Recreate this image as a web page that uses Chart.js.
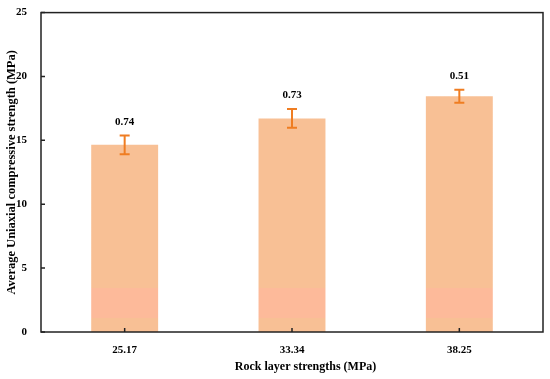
<!DOCTYPE html>
<html>
<head>
<meta charset="utf-8">
<script src="https://cdn.jsdelivr.net/npm/chart.js@4"></script>
<style>
  html, body { margin: 0; padding: 0; background: #fff; }
  #wrap { width: 550px; height: 379px; }
</style>
</head>
<body>
<div id="wrap"><canvas id="chart"></canvas></div>
<script>
const categories = ["25.17", "33.34", "38.25"];
const strengths = [14.65, 16.72, 18.45];
const errors = [0.74, 0.73, 0.51];
const yTicks = [0, 5, 10, 15, 20, 25];
const xTitle = "Rock layer strengths (MPa)";

const barColor = "#f8c095";
const bandColor = "#fdba9a";
const errColor = "#ef7d22";
const font = "Liberation Serif, Times New Roman, serif";

// pale band near the bottom of each bar (as in the reference image)
const barFill = ctx => {
  const chart = ctx.chart;
  if (!chart.chartArea) return barColor;
  const y = chart.scales.y;
  const top = y.getPixelForValue(25), bot = y.getPixelForValue(0);
  const g = chart.ctx.createLinearGradient(0, bot, 0, top);
  const s1 = 1.1 / 25, s2 = 3.45 / 25;
  g.addColorStop(0, barColor);
  g.addColorStop(s1, barColor);
  g.addColorStop(s1, bandColor);
  g.addColorStop(s2, bandColor);
  g.addColorStop(s2, barColor);
  g.addColorStop(1, barColor);
  return g;
};

const decor = {
  id: "decor",
  afterDatasetsDraw(chart) {
    const { ctx, chartArea: a, scales: { x, y } } = chart;
    ctx.save();
    // error bars + labels
    ctx.strokeStyle = errColor;
    ctx.lineWidth = 2;
    strengths.forEach((v, i) => {
      const px = x.getPixelForValue(i);
      const hi = y.getPixelForValue(v + errors[i]);
      const lo = y.getPixelForValue(v - errors[i]);
      ctx.beginPath();
      ctx.moveTo(px, hi); ctx.lineTo(px, lo);
      ctx.moveTo(px - 5, hi); ctx.lineTo(px + 5, hi);
      ctx.moveTo(px - 5, lo); ctx.lineTo(px + 5, lo);
      ctx.stroke();
      ctx.fillStyle = "#000";
      ctx.font = "bold 11px " + font;
      ctx.textAlign = "center";
      ctx.textBaseline = "bottom";
      ctx.fillText(errors[i].toFixed(2), px, hi - 8);
    });
    // frame
    ctx.strokeStyle = "#222";
    ctx.lineWidth = 1.5;
    ctx.strokeRect(a.left, a.top, a.right - a.left, a.bottom - a.top);
    // inward ticks
    ctx.beginPath();
    yTicks.forEach(t => {
      const py = y.getPixelForValue(t);
      ctx.moveTo(a.left, py); ctx.lineTo(a.left + 4, py);
    });
    categories.forEach((c, i) => {
      const px = x.getPixelForValue(i);
      ctx.moveTo(px, a.bottom); ctx.lineTo(px, a.bottom - 4);
    });
    ctx.stroke();
    // x axis title (sits a little right of centre in the reference)
    ctx.fillStyle = "#000";
    ctx.font = "bold 12px " + font;
    ctx.textAlign = "center";
    ctx.textBaseline = "middle";
    ctx.fillText(xTitle, a.left + (a.right - a.left) * 0.527, a.bottom + 35);
    ctx.restore();
  }
};

new Chart(document.getElementById("chart"), {
  type: "bar",
  data: {
    labels: categories,
    datasets: [{
      data: strengths,
      backgroundColor: barFill,
      borderWidth: 0,
      categoryPercentage: 1,
      barPercentage: 0.4
    }]
  },
  options: {
    responsive: true, maintainAspectRatio: false,
    animation: false,
    layout: { padding: { top: 9, right: 7, left: 0, bottom: 0 } },
    plugins: { legend: { display: false }, tooltip: { enabled: false } },
    scales: {
      x: {
        grid: { display: false },
        border: { display: false },
        ticks: { color: "#000", font: { family: font, size: 11, weight: "bold" }, padding: 4 },
        afterFit: s => { s.height = 47; }
      },
      y: {
        min: 0, max: 25,
        afterBuildTicks: s => { s.ticks = yTicks.map(v => ({ value: v })); },
        grid: { display: false },
        border: { display: false },
        ticks: { color: "#000", font: { family: font, size: 11, weight: "bold" }, padding: 6 },
        title: { display: true, text: "Average Uniaxial compressive strength (MPa)", color: "#000",
          font: { family: font, size: 12.5, weight: "bold" }, padding: { bottom: 0 } },
        afterFit: s => { s.width = 41; }
      }
    }
  },
  plugins: [decor]
});
</script>
</body>
</html>
